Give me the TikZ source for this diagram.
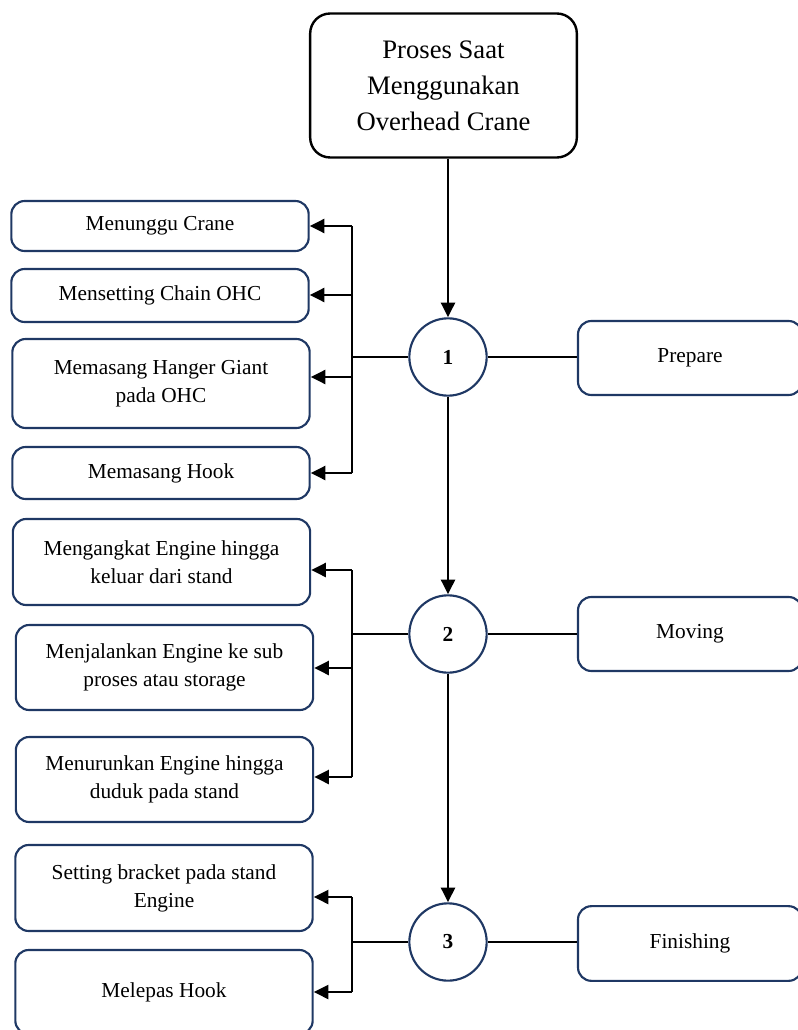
\documentclass[tikz,border=0pt]{standalone}
\usepackage{fontspec}
\setmainfont{Liberation Serif}
\usetikzlibrary{arrows.meta, calc}
\definecolor{cNavy}{RGB}{31,56,100}
\tikzset{
	mainbox/.style ={rectangle, rounded corners=15pt, draw=black, line width=1.8pt, minimum width=200pt, minimum height=108pt, align=center, font=\fontsize{20}{27}\selectfont},
	stepbox/.style ={rectangle, rounded corners=10pt, draw=cNavy, line width=1.6pt, minimum width=223pt, align=center, font=\fontsize{16}{21}\selectfont},
	phasebox/.style={stepbox, minimum width=168pt, minimum height=55.5pt},
	numcirc/.style ={circle, draw=cNavy, line width=1.6pt, minimum size=58pt, inner sep=0pt, font=\fontsize{16}{16}\selectfont\bfseries},
	flowarrow/.style={-{Triangle[length=11pt, width=10.5pt]}, line width=1.8pt},
	link/.style    ={line width=1.8pt},
}
\begin{document}
\begin{tikzpicture}[x=0.75pt, y=-0.75pt]
	\useasboundingbox (0,0) rectangle (797,1030);
	% main process
	\node[mainbox] (top) at (443.5,85.5) {Proses Saat\\ Menggunakan\\ Overhead Crane};
	% numbered stages and their names
	\node[numcirc] (c1) at (448,357) {1};
	\node[numcirc] (c2) at (448,634) {2};
	\node[numcirc] (c3) at (448,942) {3};
	\node[phasebox] (prep) at (690,358) {Prepare};
	\node[phasebox] (mov) at (690,634) {Moving};
	\node[phasebox, minimum height=56pt] (fin) at (690,943.5) {Finishing};
	\draw[flowarrow] (top.south -| c1) -- (c1.north);
	\draw[flowarrow] (c1.south) -- (c2.north);
	\draw[flowarrow] (c2.south) -- (c3.north);
	\draw[link] (c1.east) -- (c1.east -| prep.west);
	\draw[link] (c2.east) -- (c2.east -| mov.west);
	\draw[link] (c3.east) -- (c3.east -| fin.west);
	% stage 1 tasks
	\node[stepbox, minimum height=37.5pt] (wait) at (160,226) {Menunggu Crane};
	\node[stepbox, minimum height=39.75pt] (chain) at (160,295.5) {Mensetting Chain OHC};
	\node[stepbox, minimum height=66.75pt] (hanger) at (161,383.5) {Memasang Hanger Giant\\ pada OHC};
	\node[stepbox, minimum height=39pt] (hook) at (161,473) {Memasang Hook};
	% stage 2 tasks
	\node[stepbox, minimum height=64.5pt] (lift) at (161.5,562) {Mengangkat Engine hingga\\ keluar dari stand};
	\node[stepbox, minimum height=63.75pt] (run) at (164.5,667.5) {Menjalankan Engine ke sub\\ proses atau storage};
	\node[stepbox, minimum height=63.75pt] (lower) at (164.5,779.5) {Menurunkan Engine hingga\\ duduk pada stand};
	% stage 3 tasks
	\node[stepbox, minimum height=64.5pt] (bracket) at (164,888) {Setting bracket pada stand\\ Engine};
	\node[stepbox, minimum height=63pt] (release) at (164,992) {Melepas Hook};
	% branch lines to the tasks
	\foreach \t/\y in {wait/226, chain/295, hanger/377, hook/473, lift/570, run/668, lower/777, bracket/897, release/992} {
		\coordinate (j\t) at (352,\y);
		\draw[flowarrow] (j\t) -- (j\t -| \t.east);
	}
	\draw[link] (jwait) -- (jhook);
	\draw[link] (jlift) -- (jlower);
	\draw[link] (jbracket) -- (jrelease);
	\draw[link] (c1.west) -- (c1.west -| jwait);
	\draw[link] (c2.west) -- (c2.west -| jlift);
	\draw[link] (c3.west) -- (c3.west -| jbracket);
\end{tikzpicture}
\end{document}
